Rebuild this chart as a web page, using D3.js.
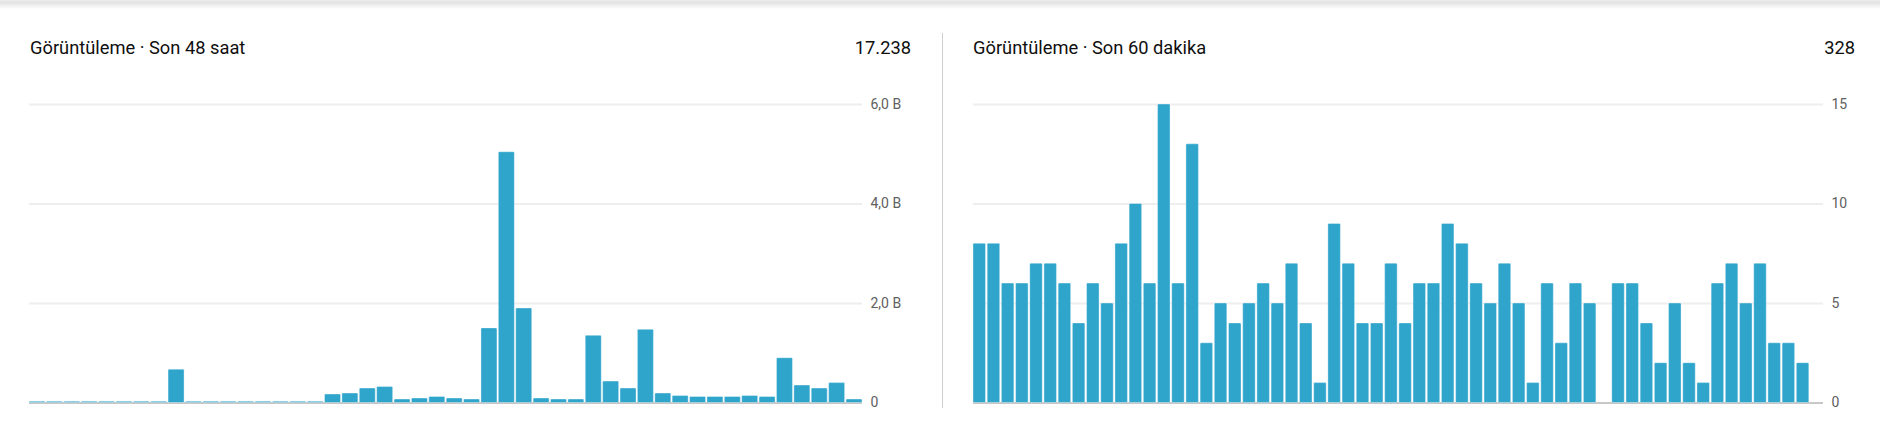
<!DOCTYPE html>
<html>
<head>
<meta charset="utf-8">
<script src="https://cdn.jsdelivr.net/npm/d3@7"></script>
<style>
  html, body { margin: 0; padding: 0; background: #fff; }
  svg { display: block; font-family: Roboto, "Noto Sans", sans-serif; }
</style>
</head>
<body>
<svg id="chart" width="1880" height="426"></svg>
<script>
// ---- data ----
const leftTitle = "Görüntüleme · Son 48 saat";
const leftTotal = "17.238";
const leftHours = d3.range(48);
const leftViews = [25, 25, 25, 25, 25, 25, 25, 25, 670, 25, 25, 25, 25, 25, 25, 25, 25,
  170, 190, 290, 320, 70, 90, 120, 90, 70, 1500, 5040, 1900, 90, 70, 70, 1350, 430, 290, 1470,
  190, 140, 120, 120, 120, 140, 120, 900, 350, 290, 400, 70];
const leftTicks = [0, 2000, 4000, 6000];
const leftTickLabels = ["0", "2,0 B", "4,0 B", "6,0 B"];

const rightTitle = "Görüntüleme · Son 60 dakika";
const rightTotal = "328";
const rightMinutes = d3.range(60);
const rightViews = [8, 8, 6, 6, 7, 7, 6, 4, 6, 5, 8, 10, 6, 15, 6, 13, 3, 5, 4, 5,
  6, 5, 7, 4, 1, 9, 7, 4, 4, 7, 4, 6, 6, 9, 8, 6, 5, 7, 5, 1,
  6, 3, 6, 5, 0, 6, 6, 4, 2, 5, 2, 1, 6, 7, 5, 7, 3, 3, 2, 0];
const rightTicks = [0, 5, 10, 15];
const rightTickLabels = ["0", "5", "10", "15"];

// ---- drawing ----
const svg = d3.select("#chart");
const defs = svg.append("defs");
const grad = defs.append("linearGradient").attr("id", "shadow")
  .attr("x1", 0).attr("y1", 0).attr("x2", 0).attr("y2", 1);
grad.append("stop").attr("offset", "0%").attr("stop-color", "#ececec");
grad.append("stop").attr("offset", "30%").attr("stop-color", "#e3e3e3");
grad.append("stop").attr("offset", "100%").attr("stop-color", "#ffffff");
svg.append("rect").attr("x", 0).attr("y", 0).attr("width", 1880).attr("height", 9)
  .attr("fill", "url(#shadow)");

// divider
svg.append("line").attr("x1", 942.5).attr("x2", 942.5).attr("y1", 33).attr("y2", 408)
  .attr("stroke", "#cfcfcf").attr("stroke-width", 1);

const BAR = "#30a5cc";
const yTop = 104, yBottom = 402.5;

function panel(opts) {
  const g = svg.append("g");
  const x = d3.scaleBand().domain(opts.cats).range([opts.x0, opts.x1])
    .paddingInner(opts.pad).paddingOuter(0);
  const y = d3.scaleLinear().domain([0, opts.ticks[opts.ticks.length - 1]]).range([yBottom, yTop]);

  g.append("text").attr("x", opts.titleX).attr("y", 54)
    .attr("font-size", 18.3).attr("fill", "#0f0f0f").text(opts.title);
  g.append("text").attr("x", opts.totalX).attr("y", 54).attr("text-anchor", "end")
    .attr("font-size", 18.3).attr("fill", "#0f0f0f").text(opts.total);

  // gridlines + labels via axis
  const axis = d3.axisRight(y).tickValues(opts.ticks)
    .tickSize(-(opts.x1 - opts.x0)).tickPadding(8)
    .tickFormat((d, i) => opts.labels[i]);
  const ag = g.append("g").attr("transform", `translate(${opts.x1},0)`).call(axis);
  ag.select(".domain").remove();
  ag.selectAll(".tick line").attr("stroke", "#eeeeee").attr("stroke-width", 2);
  ag.selectAll(".tick text").attr("font-size", 14).attr("fill", "#606060")
    .attr("font-family", "Roboto, sans-serif").attr("x", 8.5);
  ag.selectAll(".tick").filter(d => d === 0).select("line")
    .attr("stroke", "#909090").attr("stroke-width", 1);

  const bars = g.append("g");
  bars.selectAll("rect").data(opts.values).enter().append("rect")
    .attr("x", (d, i) => x(opts.cats[i]))
    .attr("width", x.bandwidth())
    .attr("y", d => y(d))
    .attr("height", d => yBottom - y(d))
    .attr("rx", 1)
    .attr("fill", BAR)
    .attr("stroke", "rgba(255,255,255,0.35)")
    .attr("stroke-width", 1)
    .style("display", d => d > 0 ? null : "none");
}

panel({ cats: leftHours, values: leftViews, ticks: leftTicks, labels: leftTickLabels,
  x0: 29, x1: 862, pad: 0.08, title: leftTitle, total: leftTotal, titleX: 30, totalX: 911 });
panel({ cats: rightMinutes, values: rightViews, ticks: rightTicks, labels: rightTickLabels,
  x0: 973, x1: 1823, pad: 0.12, title: rightTitle, total: rightTotal, titleX: 973, totalX: 1855 });
</script>
</body>
</html>
